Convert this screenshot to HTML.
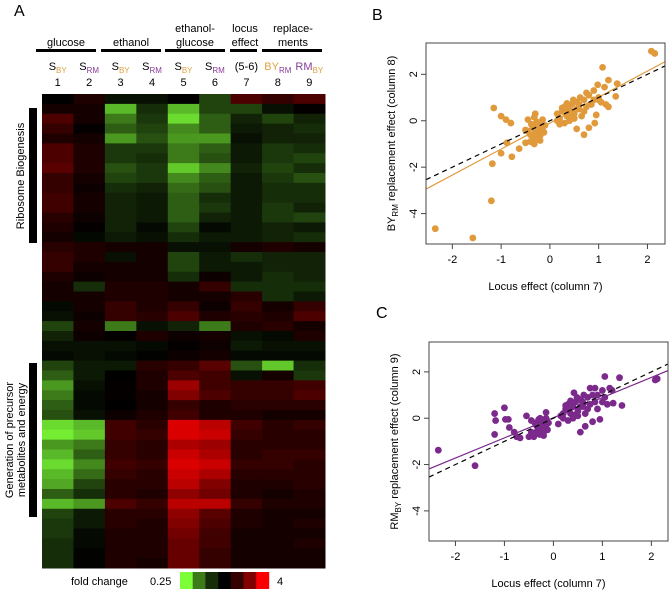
<!DOCTYPE html>
<html><head><meta charset="utf-8"><style>
html,body{margin:0;padding:0;background:#fff;}
svg{display:block;font-family:"Liberation Sans",Arial,sans-serif;}
</style></head><body>
<svg id="fig" width="669" height="592" viewBox="0 0 669 592">
<g id="panelA">
<text x="14" y="16" font-size="16">A</text>
<g font-size="11" text-anchor="middle" fill="#000">
<text x="66" y="46">glucose</text>
<text x="131" y="46">ethanol</text>
<text x="195" y="32">ethanol-</text>
<text x="195" y="46">glucose</text>
<text x="245" y="32">locus</text>
<text x="245" y="46">effect</text>
<text x="293" y="32">replace-</text>
<text x="293" y="46">ments</text>
</g>
<g fill="#000">
<rect x="36" y="49" width="60" height="3"/>
<rect x="101" y="49" width="60" height="3"/>
<rect x="165" y="49" width="60" height="3"/>
<rect x="230" y="49" width="27" height="3"/>
<rect x="262" y="49" width="60" height="3"/>
</g>
<g id="colLabels" font-size="11" text-anchor="middle"></g>
<g id="heat"></g>
<rect x="29" y="108" width="8" height="135" fill="#000"/>
<rect x="29" y="363" width="8" height="154" fill="#000"/>
<text transform="translate(24,176) rotate(-90)" font-size="11" text-anchor="middle">Ribosome Biogenesis</text>
<text transform="translate(13,440) rotate(-90)" font-size="11" text-anchor="middle">Generation of precursor</text>
<text transform="translate(25,440) rotate(-90)" font-size="11" text-anchor="middle">metabolites and energy</text>
<text x="71" y="585" font-size="11">fold change</text>
<text x="150" y="585" font-size="11">0.25</text>
<g id="legendBoxes"></g>
<text x="277" y="585" font-size="11">4</text>
</g>
<g id="panelB"></g>
<g id="panelC"></g>
</svg>
<script>
const NS="http://www.w3.org/2000/svg";
// heatmap data: log2 fold change, rows x 9 columns
const heatRows=[
[0,.4,-.3,-.3,0,-.8,.8,.6,.8],[.3,.3,-1.6,-.6,-1.6,-.8,-.8,-.3,.1],[.8,.3,-1.2,-.7,-1.8,-1,-.5,-.8,-.5],
[.6,.1,-1,-.8,-1.3,-1,-.4,-.5,-.6],[.4,.3,-1.4,-.9,-1.4,-1.4,-.3,-.5,-.5],[.8,.4,-.7,-.7,-1.2,-1,-.4,-.7,-.6],
[.8,.4,-.7,-.6,-1.2,-.9,-.4,-.7,-.8],[.9,.4,-.9,-.7,-1.7,-1.3,-.5,-.8,-.6],[.6,.3,-.8,-.7,-1.3,-1,-.4,-.7,-.9],
[.6,.2,-.6,-.5,-1.1,-.9,-.4,-.6,-.6],[.7,.3,-.5,-.4,-1,-.6,-.4,-.6,-.6],[.7,.3,-.5,-.4,-1,-.7,-.4,-.7,-.5],
[.5,.2,-.5,-.4,-1,-.5,-.4,-.7,-.8],[.4,.1,-.5,-.2,-.8,-.2,-.4,-.5,-.4],[.3,-.2,-.4,-.3,-.6,-.4,-.4,-.5,-.6],
[.5,.4,.3,.3,-.3,-.3,.3,.4,.3],[.6,.4,-.3,.3,-.8,-.4,-.6,-.5,-.5],[.6,.3,.3,.3,-.8,-.4,-.4,-.5,-.5],
[.4,.2,.3,.3,-.6,.2,-.4,-.6,-.5],[.3,-.6,.4,.4,.3,.6,-.6,-.6,-.6],[.3,.3,.4,.4,.3,.3,.5,-.6,-.4],
[-.2,.3,.6,.4,.6,.2,.6,.3,.6],[-.3,.2,.6,.5,.8,.4,.5,.4,.8],[-.8,.3,-1.2,-.3,-.5,-1.2,.4,.5,.3],
[-.5,.2,.1,.4,.2,.3,-.3,-.2,.4],[-.3,-.3,-.3,-.2,.1,.2,-.4,-.3,-.3],[-.2,-.3,-.2,-.1,.2,.3,-.2,-.2,-.2],
[-.8,-.4,-.4,.5,.6,.9,-.9,-1.7,-.6],[-1,-.4,0,.4,.8,.7,-.3,.3,-.7],[-1.4,-.3,.1,.4,1.4,.7,.6,.6,.7],
[-1.2,-.2,.1,.3,1.2,.8,.6,.6,.8],[-1,-.2,0,.3,.6,.4,.5,.5,.5],[-.9,-.3,.2,.4,.7,.4,.4,.3,.3],
[-1.8,-1.6,.7,.5,1.8,1.6,.7,.5,.6],[-1.9,-1.7,.7,.6,1.8,1.7,.6,.5,.5],[-1.4,-1.2,.6,.5,1.5,1.4,.5,.5,.5],
[-1.6,-1,.6,.5,1.7,1.5,.5,.6,.6],[-1.8,-1.3,.7,.6,1.8,1.7,.6,.6,.5],[-1.6,-1.1,.6,.5,1.7,1.5,.5,.5,.5],
[-1.5,-.8,.5,.5,1.6,1.2,.4,.4,.5],[-1,-.6,.5,.4,1.3,1.1,.4,.3,.4],[-1.6,-1.4,.8,.6,1.6,1.6,.6,.4,.4],
[-.8,-.4,.5,.5,1.3,.9,.4,.3,.3],[-.7,-.4,.5,.4,1.2,.8,.4,.3,.4],[-.7,-.2,.4,.4,1.1,.7,.3,.3,.3],
[-.6,-.2,.4,.4,1,.7,.3,.3,.4],[-.6,-.1,.4,.4,1,.6,.3,.3,.3],[-.6,-.1,.4,.3,1,.6,.3,.3,.3]];
const colNumbers=["1","2","3","4","5","6","7","8","9"];
const colMain=["S","S","S","S","S","S","(5-6)","BY","RM"];
const colSub=["BY","RM","BY","RM","BY","RM","","RM","BY"];
const legendVals=[-2,-1.2,-.6,0,.6,1.2,2];
// scatter B data
const bX=[-2.35,-1.58,-1.2,-1.18,-1.15,-1,-.9,-.8,-1,-.78,-.63,-.5,-.88,2.08,2.15,1.08,1.2,1.38,.98,1.12,1.35,.7,.8,.92,.55,.95,
-.45,-.4,-.35,-.3,-.28,-.25,-.22,-.2,-.18,-.15,-.12,-.3,-.32,-.4,-.35,-.2,-.45,-.38,-.27,-.1,-.5,-.15,-.32,-.24,
.15,.2,.25,.3,.35,.4,.45,.5,.55,.6,.65,.7,.75,.8,.85,.9,.3,.4,.5,.6,.25,.35,.45,.55,.7,.2,.15,.62,.75,1,1.05,1.15,1.2,1,.9,.48,.32,.42,.38];
const bY=[-4.65,-5.05,-3.45,-1.85,.55,.2,.05,-.1,-1.4,-1.55,-1.2,-.95,-.95,3,2.9,2.3,1.75,1.6,1.55,1.45,1.05,-.6,-.3,-.1,-.35,.25,
-.45,-.6,-.3,-.5,-.8,-.2,-.4,-.65,-.1,-.3,-.5,.3,.15,-.9,-.7,-.85,.05,-.15,-.05,-.2,-.4,.05,-1,-.55,
.3,.1,.4,.6,.2,.5,.7,.3,.8,.5,.2,.9,.6,1.1,.7,1.3,-.1,0,.1,.7,.55,.75,.15,.5,.4,-.15,0,1,1.2,.9,.8,.7,.6,1,.9,.9,.35,.25,.62];
// scatter C data
const cX=[-2.35,-1.6,-1.2,-1.18,-1.2,-1,-.98,-.92,-.9,-.8,-.75,-.68,-.55,2.08,2.12,1.05,1.35,1.4,1.22,1.1,.55,.65,.8,.95,
-.45,-.4,-.35,-.3,-.28,-.25,-.22,-.2,-.18,-.15,-.12,-.15,-.3,-.4,-.35,-.2,-.45,-.38,-.27,-.1,-.5,-.15,-.32,-.24,
.15,.2,.25,.3,.35,.4,.45,.5,.55,.6,.65,.7,.75,.8,.85,.9,.3,.4,.5,.6,.25,.35,.45,.55,.7,.1,.2,.62,.75,1,1.05,1.15,1.2,1,.9,.48,.32,.42,.38,.85];
const cY=[-1.38,-2.05,.2,-.1,-.7,.45,-.05,-.05,-.4,-.6,-.8,-.85,.1,1.65,1.7,1.8,1.75,.55,.65,.6,-.6,-.35,-.15,-.05,
-.6,-.8,-.3,-.5,-.7,-.2,-.4,-.6,-.1,-.3,-.5,.25,-.05,-.75,-.6,-.75,-.1,-.2,0,-.2,-.8,0,-.4,-.55,
.1,.2,.4,.6,.2,.5,.7,.3,.8,.5,.2,.9,.6,1,.7,1,-.1,0,.1,.7,.55,.75,.15,.5,.4,-.25,0,1,1.3,1.2,.9,1.3,1.2,.7,.4,.9,.35,1.1,.62,1.3];
const fitB=[1.12,-0.1], fitC=[0.87,0.02];
const xTicks=[-2,-1,0,1,2], yTicks=[2,0,-2,-4];

function mk(tag,attrs,parent){const e=document.createElementNS(NS,tag);for(const k in attrs)e.setAttribute(k,attrs[k]);parent.appendChild(e);return e;}
function heatColor(v){const c=Math.max(-2,Math.min(2,v));
 if(c<0){const t=Math.pow(-c/2,1.45);return `rgb(${Math.round(t*125)},${Math.round(t*255)},${Math.round(t*55)})`;}
 const t=Math.pow(c/2,1.3);return `rgb(${Math.round(t*250)},0,0)`;}

// heatmap
const hx0=42,hx1=325,hy0=94,hy1=568;
const cw=(hx1-hx0)/9, rh=(hy1-hy0)/heatRows.length;
const colX=i=>hx0+cw*i, rowY=r=>hy0+rh*r;
const heat=document.getElementById('heat');
heatRows.forEach((row,r)=>row.forEach((v,c)=>{
 const e=mk('rect',{x:colX(c),y:rowY(r),width:cw+0.5,height:rh+0.5,fill:heatColor(v)},heat);
 
 
}));
const cl=document.getElementById('colLabels');
colNumbers.forEach((n,i)=>{
 const cx=colX(i)+cw/2;
 const t=mk('text',{x:cx,y:86},cl);t.textContent=n;
 
 
 const m=mk('text',{x:cx,y:70},cl);
 
 
 const mainCol=colMain[i]==="BY"?"#e0a040":colMain[i]==="RM"?"#8a3a9a":"#000";
 const s1=mk('tspan',{fill:mainCol},m);s1.textContent=colMain[i];
 if(colSub[i]){const s2=mk('tspan',{fill:colSub[i]==="BY"?"#e0a040":"#8a3a9a","font-size":"8",dy:"3"},m);s2.textContent=colSub[i];}
});
const lg=document.getElementById('legendBoxes');
legendVals.forEach((v,i)=>{
 const e=mk('rect',{x:180+i*12.7,y:572,width:13,height:17,fill:heatColor(v)},lg);
 
 
});

function scatter(g,o){
 const sx=x=>o.x0+(x-o.xmin)/(o.xmax-o.xmin)*(o.x1-o.x0);
 const sy=y=>o.y1-(y-o.ymin)/(o.ymax-o.ymin)*(o.y1-o.y0);
 const L=mk('text',{x:o.lx,y:o.ly,"font-size":16},g);L.textContent=o.letter;
 
 
 const cp=mk('clipPath',{id:'clip'+o.letter},g);
 mk('rect',{x:o.x0,y:o.y0,width:o.x1-o.x0,height:o.y1-o.y0},cp);
 const pts=mk('g',{"clip-path":`url(#clip${o.letter})`},g);
 
 
 o.xs.forEach((x,i)=>{const c=mk('circle',{cx:sx(x),cy:sy(o.ys[i]),r:3.4,fill:o.color},pts);
  
  });
 const f=mk('line',{x1:sx(o.xmin),y1:sy(o.fit[0]*o.xmin+o.fit[1]),x2:sx(o.xmax),y2:sy(o.fit[0]*o.xmax+o.fit[1]),stroke:o.color,"stroke-width":1.2},pts);
 
 
 const d=mk('line',{x1:sx(o.xmin),y1:sy(o.xmin),x2:sx(o.xmax),y2:sy(o.xmax),stroke:"#000","stroke-width":1.2,"stroke-dasharray":"5,4"},pts);
 
 
 const b=mk('rect',{x:o.x0,y:o.y0,width:o.x1-o.x0,height:o.y1-o.y0,fill:"none",stroke:"#444","stroke-width":1},g);
 
 
 xTicks.forEach(t=>{const X=sx(t);mk('line',{x1:X,x2:X,y1:o.y1,y2:o.y1+5,stroke:"#444"},g);
  const tx=mk('text',{x:X,y:o.y1+19,"font-size":11,"text-anchor":"middle"},g);tx.textContent=t;
  
  });
 yTicks.forEach(t=>{const Y=sy(t);mk('line',{x1:o.x0-5,x2:o.x0,y1:Y,y2:Y,stroke:"#444"},g);
  const ty=mk('text',{transform:`translate(${o.x0-9},${Y}) rotate(-90)`,"font-size":11,"text-anchor":"middle"},g);ty.textContent=t;
  
  });
 const xl=mk('text',{x:(o.x0+o.x1)/2,y:o.y1+46,"font-size":11,"text-anchor":"middle"},g);xl.textContent="Locus effect (column 7)";
 
 
 const yl=mk('text',{transform:`translate(${o.x0-31},${(o.y0+o.y1)/2}) rotate(-90)`,"font-size":11,"text-anchor":"middle"},g);
 
 
 const a=mk('tspan',{},yl);a.textContent=o.yMain;
 const s=mk('tspan',{"font-size":8,dy:3},yl);s.textContent=o.ySub;
 const r=mk('tspan',{dy:-3},yl);r.textContent=" replacement effect (column "+o.col+")";
}
scatter(document.getElementById('panelB'),{letter:"B",lx:372,ly:20,x0:426,x1:665,y0:43,y1:244,xmin:-2.54,xmax:2.36,ymin:-5.31,ymax:3.35,
 xs:bX,ys:bY,color:"#e09a3c",fit:fitB,yMain:"BY",ySub:"RM",col:8});
scatter(document.getElementById('panelC'),{letter:"C",lx:376,ly:318,x0:429,x1:668,y0:342,y1:541,xmin:-2.54,xmax:2.34,ymin:-5.3,ymax:3.29,
 xs:cX,ys:cY,color:"#7b2a8c",fit:fitC,yMain:"RM",ySub:"BY",col:9});
</script>
</body></html>
